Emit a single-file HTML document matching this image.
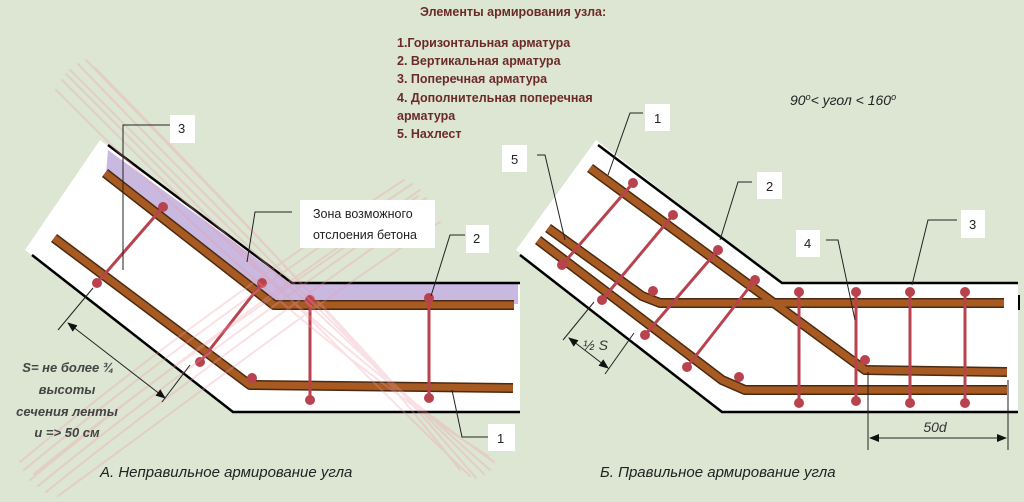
<!DOCTYPE html>
<html><head><meta charset="utf-8"><style>
html,body{margin:0;padding:0;background:#dde5d3;}
svg{display:block}
text{font-family:"Liberation Sans",sans-serif}
</style></head><body>
<svg width="1024" height="502" viewBox="0 0 1024 502" xmlns="http://www.w3.org/2000/svg">
<rect width="1024" height="502" fill="#dde5d3"/>
<defs>
<marker id="ar" markerWidth="10" markerHeight="8" refX="9" refY="4" orient="auto" markerUnits="userSpaceOnUse"><path d="M0,0 L10,4 L0,8 z" fill="#111"/></marker>
<marker id="al" markerWidth="10" markerHeight="8" refX="1" refY="4" orient="auto" markerUnits="userSpaceOnUse"><path d="M10,0 L0,4 L10,8 z" fill="#111"/></marker>
</defs>

<!-- LEFT DIAGRAM -->
<polygon points="100,140 290,283 520,283 520,412 233,412 25,250" fill="#fff"/>
<polygon points="108,150 290,283 518,283 518,304 278,304 106,174" fill="#c9b8e0"/>
<polyline points="108,145 292,283 520,283" fill="none" stroke="#000" stroke-width="2.5"/>
<polyline points="32,255 233,412 520,412" fill="none" stroke="#000" stroke-width="2.5"/>
<g stroke="#4a2a10" stroke-width="10" fill="none" stroke-linejoin="round"><polyline points="105,173 274,305 514,305"/><polyline points="54,238 250,385 513,388"/></g>
<g stroke="#a75a22" stroke-width="7" fill="none" stroke-linejoin="round"><polyline points="105,173 274,305 514,305"/><polyline points="54,238 250,385 513,388"/></g>
<g stroke="#b8434f" stroke-width="3"><line x1="163" y1="207" x2="97" y2="283"/><line x1="262" y1="283" x2="200" y2="362"/><line x1="310" y1="300" x2="310" y2="400"/><line x1="429" y1="298" x2="429" y2="398"/></g>
<g fill="#b8434f"><circle cx="163" cy="207" r="5"/><circle cx="97" cy="283" r="5"/><circle cx="262" cy="283" r="5"/><circle cx="200" cy="362" r="5"/><circle cx="252" cy="378" r="5"/><circle cx="310" cy="300" r="5"/><circle cx="429" cy="298" r="5"/><circle cx="310" cy="400" r="5"/><circle cx="429" cy="398" r="5"/></g>
<!-- pink X -->
<g stroke="#f09aa8" fill="none" opacity="0.3" stroke-linecap="round" stroke-width="2">
<path d="M70,70 C200,200 330,330 490,470"/>
<path d="M78,64 C205,196 336,326 484,474"/>
<path d="M86,60 C212,190 342,320 476,478"/>
<path d="M62,80 C192,210 322,340 494,462"/>
<path d="M56,90 C186,220 318,348 488,456"/>
<path d="M95,68 C220,195 350,330 460,470"/>
<path d="M66,74 C198,205 326,338 470,476"/>
<path d="M30,480 C150,380 290,280 420,190"/>
<path d="M38,486 C160,386 300,286 426,198"/>
<path d="M46,492 C170,392 310,292 432,206"/>
<path d="M24,470 C142,372 280,272 412,184"/>
<path d="M20,462 C136,365 272,266 404,180"/>
<path d="M58,496 C190,400 320,300 440,222"/>
<path d="M34,474 C154,376 296,282 418,196"/>
</g>
<g stroke="#222" stroke-width="1" fill="none">
<polyline points="170,125 123,125 123,270"/>
<polyline points="292,212 255,212 247,262"/>
<polyline points="465,235 450,235 431,296"/>
<polyline points="488,437 462,437 452,390"/>
<line x1="93" y1="288" x2="58" y2="330"/><line x1="190" y1="365" x2="162" y2="402"/>
<line x1="68" y1="323" x2="165" y2="398" marker-start="url(#al)" marker-end="url(#ar)"/>
</g>
<g fill="#fff"><rect x="170" y="115" width="25" height="28"/><rect x="300" y="200" width="135" height="48"/><rect x="466" y="225" width="23" height="28"/><rect x="488" y="424" width="27" height="27"/></g>
<g font-size="13" fill="#222"><text x="178" y="133">3</text><text x="473" y="243">2</text><text x="497" y="443">1</text>
<text x="313" y="218" font-size="12.5">Зона возможного</text><text x="313" y="239" font-size="12.5">отслоения бетона</text></g>
<g font-size="13" fill="#444" font-style="italic" font-weight="bold" text-anchor="middle">
<text x="68" y="372">S= не более ¾</text><text x="67" y="394">высоты</text><text x="67" y="416">сечения ленты</text><text x="67" y="437">и =&gt; 50 см</text></g>
<text x="100" y="477" font-size="15" font-style="italic" fill="#222">А. Неправильное армирование угла</text>

<!-- RIGHT DIAGRAM -->
<polygon points="596,140 782,283 1018,283 1018,412 722,412 516,250" fill="#fff"/>
<polyline points="598,145 782,283 1018,283" fill="none" stroke="#000" stroke-width="2.5"/>
<polyline points="520,255 722,412 1018,412" fill="none" stroke="#000" stroke-width="2.5"/>
<line x1="1019" y1="295" x2="1019" y2="310" stroke="#000" stroke-width="2"/>
<g stroke="#4a2a10" stroke-width="10" fill="none" stroke-linejoin="round">
<polyline points="590,168 865,370 1007,372"/><polyline points="548,228 642,296 660,303 1004,303"/><polyline points="538,240 722,380 745,390 1007,390"/></g>
<g stroke="#a75a22" stroke-width="7" fill="none" stroke-linejoin="round">
<polyline points="590,168 865,370 1007,372"/><polyline points="548,228 642,296 660,303 1004,303"/><polyline points="538,240 722,380 745,390 1007,390"/></g>
<g stroke="#b8434f" stroke-width="3"><line x1="633" y1="183" x2="562" y2="265"/><line x1="673" y1="215" x2="602" y2="300"/><line x1="718" y1="250" x2="645" y2="335"/><line x1="755" y1="280" x2="687" y2="367"/>
<line x1="799" y1="292" x2="799" y2="403"/><line x1="856" y1="292" x2="856" y2="403"/><line x1="910" y1="292" x2="910" y2="403"/><line x1="965" y1="292" x2="965" y2="403"/></g>
<g fill="#b8434f"><circle cx="633" cy="183" r="5"/><circle cx="562" cy="265" r="5"/><circle cx="673" cy="215" r="5"/><circle cx="602" cy="300" r="5"/><circle cx="718" cy="250" r="5"/><circle cx="645" cy="335" r="5"/><circle cx="755" cy="280" r="5"/><circle cx="687" cy="367" r="5"/>
<circle cx="653" cy="291" r="5"/><circle cx="739" cy="377" r="5"/><circle cx="865" cy="360" r="5"/>
<circle cx="799" cy="292" r="5"/><circle cx="856" cy="292" r="5"/><circle cx="910" cy="292" r="5"/><circle cx="965" cy="292" r="5"/>
<circle cx="799" cy="403" r="5"/><circle cx="856" cy="401" r="5"/><circle cx="910" cy="403" r="5"/><circle cx="965" cy="403" r="5"/></g>
<g stroke="#222" stroke-width="1" fill="none">
<polyline points="643,113 630,113 608,175"/>
<polyline points="537,155 545,155 565,240"/>
<polyline points="752,182 738,182 720,240"/>
<polyline points="957,220 928,220 912,285"/>
<polyline points="826,240 838,240 855,320"/>
<line x1="868" y1="372" x2="868" y2="450"/><line x1="1008" y1="380" x2="1008" y2="450"/>
<line x1="870" y1="438" x2="1006" y2="438" marker-start="url(#al)" marker-end="url(#ar)"/>
<line x1="594" y1="302" x2="563" y2="340"/><line x1="634" y1="333" x2="605" y2="374"/>
<line x1="569" y1="338" x2="608" y2="368" marker-start="url(#al)" marker-end="url(#ar)"/>
</g>
<g fill="#fff"><rect x="645" y="104" width="25" height="27"/><rect x="502" y="145" width="25" height="27"/><rect x="757" y="172" width="25" height="27"/><rect x="961" y="210" width="24" height="28"/><rect x="796" y="230" width="24" height="27"/></g>
<g font-size="13" fill="#222"><text x="654" y="123">1</text><text x="511" y="164">5</text><text x="766" y="191">2</text><text x="969" y="229">3</text><text x="804" y="248">4</text></g>
<text x="935" y="432" font-size="14" font-style="italic" fill="#333" text-anchor="middle">50d</text>
<text x="583" y="350" font-size="14" font-style="italic" fill="#333">½ S</text>
<text x="600" y="477" font-size="15" font-style="italic" fill="#222">Б. Правильное армирование угла</text>

<g fill="#6b2a2a" font-weight="bold" font-size="12.5">
<text x="420" y="16">Элементы армирования узла:</text>
<text x="397" y="47">1.Горизонтальная арматура</text>
<text x="397" y="65">2. Вертикальная арматура</text>
<text x="397" y="83">3. Поперечная арматура</text>
<text x="397" y="102">4. Дополнительная поперечная</text>
<text x="397" y="120">арматура</text>
<text x="397" y="138">5. Нахлест</text>
</g>
<text x="790" y="105" font-size="14" font-style="italic" fill="#222">90<tspan font-size="9" dy="-5">o</tspan><tspan dy="5">&lt; угол &lt; 160</tspan><tspan font-size="9" dy="-5">o</tspan></text>
</svg>
</body></html>
